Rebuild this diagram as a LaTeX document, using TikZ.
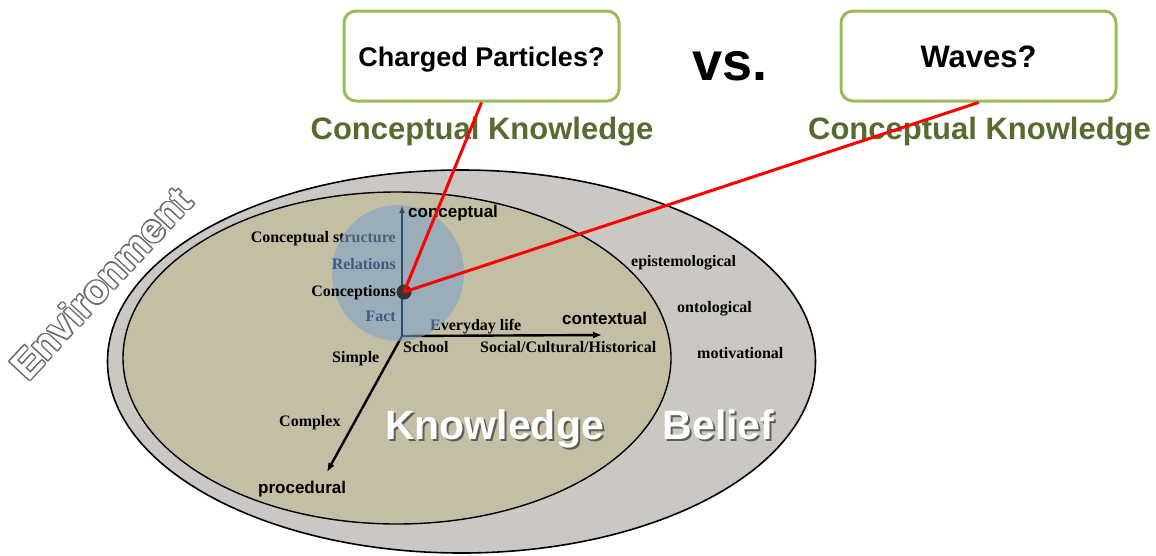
\documentclass[tikz,border=0pt]{standalone}
\usepackage{fontspec}
\setmainfont{Liberation Serif}
\setsansfont{Liberation Sans}
\usetikzlibrary{arrows.meta,calc}
\definecolor{khaki}{HTML}{C4BEA4}
\definecolor{envgray}{HTML}{CBC8C3}
\definecolor{bubble}{HTML}{7FA3C8}
\definecolor{axisblue}{HTML}{2B4A6C}
\definecolor{boxgreen}{HTML}{9BBB59}
\definecolor{ckgreen}{HTML}{566B30}
\definecolor{lblblue}{HTML}{3D5A80}
\definecolor{shadowgray}{HTML}{5E5E58}
\definecolor{outlinegray}{HTML}{6A6A6A}
\begin{document}
\begin{tikzpicture}[x=1pt,y=-1pt,
  serif/.style={font=\fontsize{16}{16}\selectfont\bfseries, inner sep=0pt},
  sanslbl/.style={font=\fontsize{17}{17}\selectfont\sffamily\bfseries, inner sep=0pt},
  qbox/.style={draw=boxgreen, line width=3pt, rounded corners=12pt, fill=white, minimum width=275pt, minimum height=90pt, inner sep=0pt},
  qtext/.style={font=\sffamily\bfseries, inner sep=0pt, anchor=base},
  cktext/.style={font=\fontsize{31}{31}\selectfont\sffamily\bfseries, text=ckgreen, inner sep=0pt, anchor=base},
  bigword/.style={font=\fontsize{41}{41}\selectfont\sffamily\bfseries, inner sep=0pt, anchor=base},
  envword/.style={font=\fontsize{40}{40}\selectfont\sffamily\bfseries, inner sep=0pt, rotate=47},
  axisline/.style={line width=2.4pt, -{Latex[length=9pt,width=7pt]}},
  redline/.style={red, line width=3pt}
]
\useasboundingbox (0,0) rectangle (1156,555);

% ellipses
\filldraw[fill=envgray, draw=black, line width=1.6pt] (461.5,361.5) ellipse [x radius=354, y radius=191.5];
\filldraw[fill=khaki, draw=black, line width=1.4pt] (397,358) ellipse [x radius=274, y radius=166];

% environment outlined text
\coordinate (envc) at (101,283);
\foreach \dx/\dy [count=\i] in {1.4/0,-1.4/0,0/1.4,0/-1.4,1/1,-1/1,1/-1,-1/-1}{
  \node[envword, text=outlinegray] (envs\i) at ($(envc)+(\dx,\dy)$) {Environment};
}
\node[envword, text=white] (env) at (envc) {Environment};

% axes
\coordinate (o) at (402,336);
\coordinate (ctop) at (402,206);
\coordinate (cright) at (602,335);
\coordinate (cproc) at (327,472);
\draw[axisline, black] (o) -- (cright);
\draw[axisline, black] (o) -- (cproc);

% labels under the bubble
\node[serif, anchor=mid east] (cs) at (396,240) {Conceptual structure};
\node[serif, anchor=mid west] (every) at (430,328) {Everyday life};

% bubble
\fill[bubble, opacity=0.6] (398,273) ellipse [x radius=66, y radius=68];
\draw[axisline, axisblue, -{Latex[length=7pt,width=6pt]}] (o) -- (ctop);

% labels on top
\node[serif, anchor=mid east, text=lblblue] (rel) at (396,267) {Relations};
\node[serif, anchor=mid east, text=lblblue] (fact) at (396,319) {Fact};
\node[serif, anchor=mid east] (conc) at (396,294) {Conceptions};
\node[sanslbl, anchor=mid west] (concax) at (408,215) {conceptual};
\node[sanslbl, anchor=mid west] (contax) at (562,322) {contextual};
\node[serif, anchor=mid west] (school) at (403,350) {School};
\node[serif, anchor=mid west] (social) at (480,350) {Social/Cultural/Historical};
\node[serif, anchor=mid west] (simple) at (332,360) {Simple};
\node[serif, anchor=mid west] (complex) at (279,424) {Complex};
\node[sanslbl, anchor=mid west] (proc) at (258,491) {procedural};
\node[serif, anchor=mid west] (epi) at (631,264) {epistemological};
\node[serif, anchor=mid west] (onto) at (677,310) {ontological};
\node[serif, anchor=mid west] (moti) at (697,356) {motivational};

% Knowledge / Belief
\node[bigword, text=shadowgray] (knows) at (496.5,441.5) {Knowledge};
\node[bigword, text=white] (know) at (494.5,439.5) {Knowledge};
\node[bigword, text=shadowgray] (bels) at (720.5,441.5) {Belief};
\node[bigword, text=white] (bel) at (718.5,439.5) {Belief};

% top boxes and labels
\node[qbox] (b1) at (481.5,56) {};
\node[qbox] (b2) at (978.5,56) {};
\node[qtext, font=\fontsize{27}{27}\selectfont\sffamily\bfseries] (t1) at (481.5,66) {Charged Particles?};
\node[qtext, font=\fontsize{31}{31}\selectfont\sffamily\bfseries] (t2) at (978.5,67) {Waves?};
\node[qtext, font=\fontsize{54}{54}\selectfont\sffamily\bfseries] (vs) at (730,80) {vs.};
\node[cktext] (ck1) at (482,139) {Conceptual Knowledge};
\node[cktext] (ck2) at (979.5,139) {Conceptual Knowledge};

% dot and red connectors
\node[circle, fill=black!80, minimum size=15pt, inner sep=0pt] (dot) at (404,292) {};
\draw[redline] (dot.center) -- (b1.south);
\draw[redline] (dot.center) -- (b2.south);
\end{tikzpicture}
\end{document}
